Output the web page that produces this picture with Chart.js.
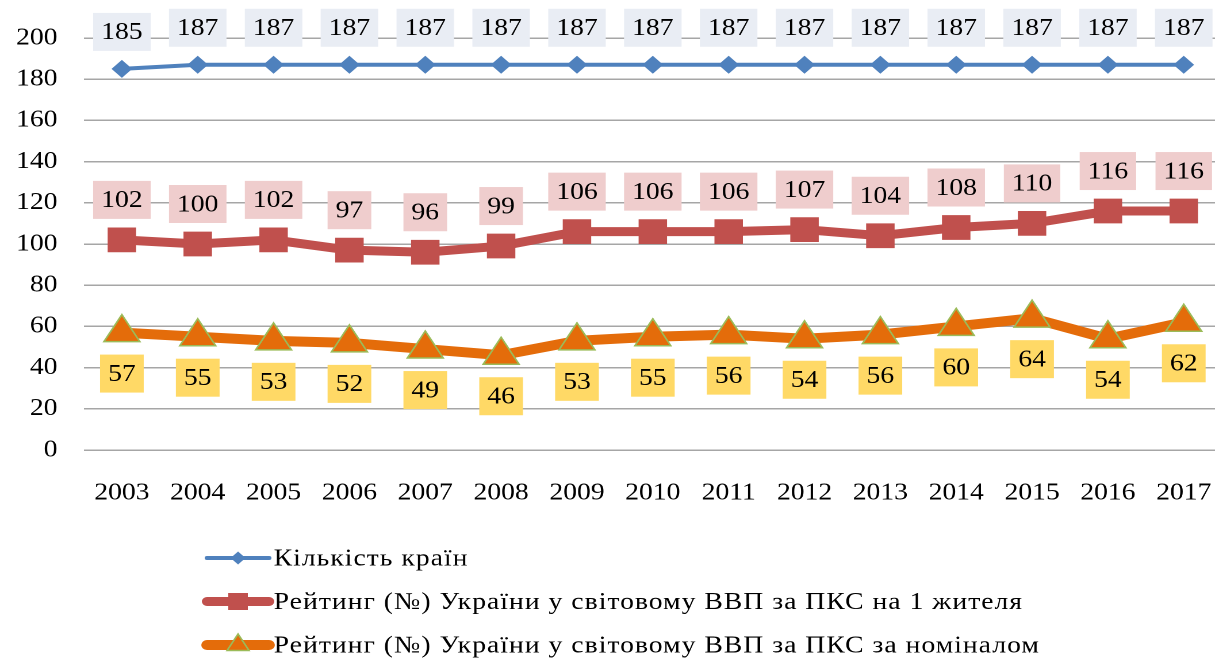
<!DOCTYPE html>
<html>
<head>
<meta charset="utf-8">
<script src="https://cdn.jsdelivr.net/npm/chart.js@4.4.0/dist/chart.umd.min.js"></script>
<style>
  html, body { margin: 0; padding: 0; background: #fff; overflow: hidden; }
  /* the original picture is stretched sideways, so is this one */
  #wrap { width: 1083px; height: 659px; transform: scaleX(1.15); transform-origin: 0 0; }
</style>
</head>
<body>
<div id="wrap"><canvas id="chart" width="1083" height="659"></canvas></div>
<script>
const years = ["2003", "2004", "2005", "2006", "2007", "2008", "2009", "2010",
  "2011", "2012", "2013", "2014", "2015", "2016", "2017"];
const countries = [185, 187, 187, 187, 187, 187, 187, 187, 187, 187, 187, 187, 187, 187, 187];
const pppRank = [102, 100, 102, 97, 96, 99, 106, 106, 106, 107, 104, 108, 110, 116, 116];
const nominalRank = [57, 55, 53, 52, 49, 46, 53, 55, 56, 54, 56, 60, 64, 54, 62];
const yTicks = [0, 200, 20]; // min, max, step

const seriesNames = [
  "Кількість країн",
  "Рейтинг (№) України у світовому ВВП за ПКС на 1 жителя",
  "Рейтинг (№) України у світовому ВВП за ПКС за номіналом",
];

const FONT = "Liberation Serif, DejaVu Serif, serif";

// boxed value labels above / below each point
const labelBoxes = {
  id: "labelBoxes",
  afterDatasetsDraw(chart, args, opts) {
    const ctx = chart.ctx;
    chart.data.datasets.forEach((ds, i) => {
      const st = opts.styles[i];
      const meta = chart.getDatasetMeta(i);
      ctx.save();
      ctx.font = "24px " + FONT;
      ctx.textAlign = "center";
      ctx.textBaseline = "middle";
      meta.data.forEach((pt, j) => {
        const txt = String(ds.data[j]);
        const w = ctx.measureText(txt).width + 2 * st.padX;
        const cy = pt.y + st.dy;
        ctx.fillStyle = st.bg;
        ctx.fillRect(pt.x - w / 2, cy - st.h / 2, w, st.h);
        ctx.fillStyle = "#000";
        ctx.fillText(txt, pt.x, cy + 1);
      });
      ctx.restore();
    });
  },
};

// vertical legend under the axis
const listLegend = {
  id: "listLegend",
  afterDraw(chart, args, opts) {
    const ctx = chart.ctx;
    chart.data.datasets.forEach((ds, i) => {
      const y = opts.top + i * opts.step;
      const x0 = opts.left, x1 = opts.left + opts.lineLen, xm = (x0 + x1) / 2;
      ctx.save();
      ctx.strokeStyle = ds.borderColor;
      ctx.lineWidth = ds.borderWidth;
      ctx.lineCap = "round";
      ctx.beginPath();
      ctx.moveTo(x0, y);
      ctx.lineTo(x1, y);
      ctx.stroke();
      ctx.fillStyle = ds.pointBackgroundColor;
      ctx.beginPath();
      const r = opts.markers[i];
      if (ds.pointStyle === "rectRot") {
        ctx.moveTo(xm - r, y); ctx.lineTo(xm, y - r);
        ctx.lineTo(xm + r, y); ctx.lineTo(xm, y + r);
      } else if (ds.pointStyle === "rect") {
        ctx.rect(xm - r, y - r, 2 * r, 2 * r);
      } else {
        ctx.moveTo(xm, y - r);
        ctx.lineTo(xm + r * 0.866, y + r / 2);
        ctx.lineTo(xm - r * 0.866, y + r / 2);
      }
      ctx.closePath();
      ctx.fill();
      if (ds.pointBorderWidth) {
        ctx.strokeStyle = ds.pointBorderColor;
        ctx.lineWidth = ds.pointBorderWidth;
        ctx.lineCap = "butt";
        ctx.stroke();
      }
      ctx.fillStyle = "#000";
      ctx.font = "24px " + FONT;
      ctx.letterSpacing = opts.spacing;
      ctx.textBaseline = "middle";
      ctx.fillText(seriesNames[i], x1 + 4, y + 1);
      ctx.restore();
    });
  },
};

new Chart(document.getElementById("chart"), {
  type: "line",
  data: {
    labels: years,
    datasets: [
      {
        label: seriesNames[0],
        data: countries,
        borderColor: "#4f81bd",
        borderWidth: 4,
        pointStyle: "rectRot",
        pointRadius: 9,
        pointBackgroundColor: "#4f81bd",
        pointBorderWidth: 0,
      },
      {
        label: seriesNames[1],
        data: pppRank,
        borderColor: "#c0504d",
        borderWidth: 9,
        pointStyle: "rect",
        pointRadius: 17.5,
        pointBackgroundColor: "#c0504d",
        pointBorderWidth: 0,
      },
      {
        label: seriesNames[2],
        data: nominalRank,
        borderColor: "#e46c0a",
        borderWidth: 10,
        pointStyle: "triangle",
        pointRadius: 18,
        pointBackgroundColor: "#e46c0a",
        pointBorderColor: "#9bbb59",
        pointBorderWidth: 1.5,
      },
    ],
  },
  options: {
    responsive: false,
    animation: false,
    devicePixelRatio: 2,
    events: [],
    layout: { padding: { top: 38, left: 0, right: 1, bottom: 0 } },
    plugins: {
      legend: { display: false },
      tooltip: { enabled: false },
      labelBoxes: {
        styles: [
          { bg: "#e9edf4", dy: -37, h: 38, padX: 7 },
          { bg: "#efcdcd", dy: -40, h: 38, padX: 7 },
          { bg: "#ffd966", dy: 41, h: 38, padX: 7 },
        ],
      },
      listLegend: { left: 180, lineLen: 54, top: 558, step: 43.5, markers: [6.5, 8.5, 11], spacing: "0.9px" },
    },
    scales: {
      x: {
        offset: true,
        grid: { display: false, drawTicks: false },
        border: { display: false },
        ticks: { color: "#000", font: { family: FONT, size: 24 }, padding: 29, maxRotation: 0, autoSkip: false },
        afterFit(scale) { scale.height = 209; },
      },
      y: {
        min: yTicks[0],
        max: yTicks[1],
        grid: { color: "#a6a6a6", lineWidth: 1.5, drawTicks: false },
        border: { display: false },
        ticks: { stepSize: yTicks[2], color: "#000", font: { family: FONT, size: 24 }, padding: 23 },
        afterFit(scale) { scale.width = 73; },
      },
    },
  },
  plugins: [labelBoxes, listLegend],
});
</script>
</body>
</html>
